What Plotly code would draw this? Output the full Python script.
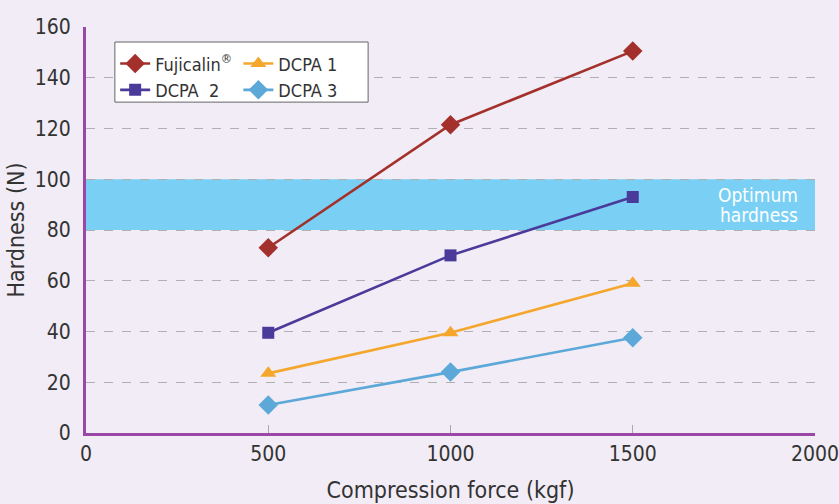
import plotly.graph_objects as go

force = [500, 1000, 1500]
fujicalin = [73, 121.5, 150.5]
dcpa1 = [23.5, 39.5, 59]
dcpa2 = [39.5, 70, 93]
dcpa3 = [11, 24, 37.5]
band_low, band_high = 80, 100
x_ticks = [0, 500, 1000, 1500, 2000]
y_ticks = [0, 20, 40, 60, 80, 100, 120, 140, 160]

FONT = "Liberation Sans Narrow, DejaVu Sans Condensed, Arial Narrow, sans-serif"
BG = "#f1ecf5"
AXC = "#9a48a6"

fig = go.Figure()
series = [
    ("Fujicalin<sup>®</sup>", fujicalin, "#a3302b", "diamond", 15, "legend"),
    ("DCPA  2", dcpa2, "#4a3a9a", "square", 12, "legend"),
    ("DCPA 1", dcpa1, "#f4a72c", "triangle-up", 14, "legend2"),
    ("DCPA 3", dcpa3, "#5ca8d8", "diamond", 15, "legend2"),
]
for name, ys, c, sym, sz, lg in series:
    fig.add_trace(go.Scatter(
        x=force, y=ys, name=name, mode="lines+markers",
        line=dict(color=c, width=2.6),
        marker=dict(symbol=sym, size=sz, color=c),
        legend=lg, cliponaxis=False,
    ))

fig.add_shape(type="rect", xref="x", yref="y", x0=0, x1=2000, y0=band_low, y1=band_high,
              fillcolor="#79d0f4", line=dict(width=0), layer="below")
fig.add_shape(type="rect", xref="paper", yref="paper", x0=0.0396, x1=0.387, y0=0.815, y1=0.963,
              fillcolor="white", line=dict(color="#666666", width=1), layer="above")

mid = (band_low + band_high) / 2
for txt, shift in (("Optimum", 10), ("hardness", -10)):
    fig.add_annotation(x=2000, y=mid, xref="x", yref="y", yshift=shift,
                       text=txt, showarrow=False, xanchor="right", xshift=-15,
                       align="right", font=dict(family=FONT, size=19, color="white"))

legend_common = dict(bgcolor="rgba(0,0,0,0)", borderwidth=0, font=dict(family=FONT, size=18, color="#333333"),
                     orientation="v", yanchor="top", xanchor="left", tracegroupgap=0, itemwidth=30)

fig.update_layout(
    width=839, height=504,
    margin=dict(l=86, r=24, t=27, b=71),
    paper_bgcolor=BG, plot_bgcolor=BG,
    font=dict(family=FONT, color="#333333"),
    legend=dict(x=0.040, y=0.955, **legend_common),
    legend2=dict(x=0.209, y=0.955, **legend_common),
    xaxis=dict(range=[0, 2000], tickvals=x_ticks, showgrid=False, zeroline=False, automargin=False,
               showline=True, linecolor=AXC, linewidth=3, ticklabeloverflow="allow",
               ticks="inside", ticklen=8, tickcolor="#aaaaaa", tickwidth=1,
               tickfont=dict(size=21, color="#333333"),
               title=dict(text="Compression force (kgf)", font=dict(size=23, color="#333333"), standoff=17)),
    yaxis=dict(range=[0, 160], tickvals=y_ticks, showgrid=True, gridcolor="#b0b0b0", griddash="dash",
               gridwidth=1, zeroline=False, showline=True, linecolor=AXC, linewidth=3, automargin=False,
               ticks="", tickfont=dict(size=21, color="#333333"), ticklabelstandoff=8,
               ticklabeloverflow="allow",
               title=dict(text="Hardness (N)", font=dict(size=23, color="#333333"), standoff=4)),
    showlegend=True,
)

fig.write_html("out.html", config={"displayModeBar": False},
               post_script="document.body.style.margin='0';document.body.style.overflow='hidden';")
